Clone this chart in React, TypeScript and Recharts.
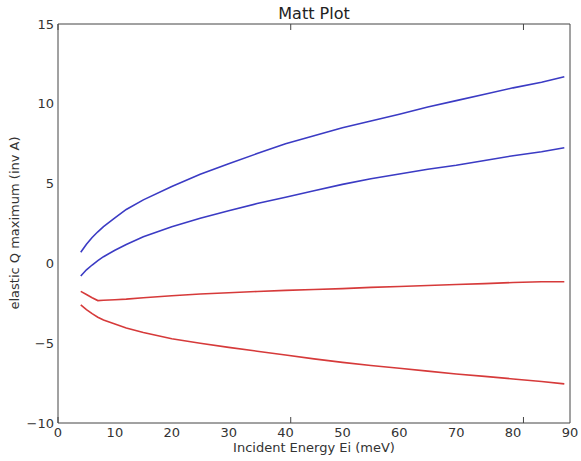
import { LineChart, Line, XAxis, YAxis, Label } from 'recharts'

// incident energy (meV)
const energies = [4, 5, 6, 7, 8, 10, 12, 15, 20, 25, 30, 35, 40, 45, 50, 55, 60, 65, 70, 75, 80, 85, 89]

// upper / lower Q limits
const blueTop = [0.7, 1.2, 1.62, 1.98, 2.3, 2.85, 3.38, 3.98, 4.82, 5.58, 6.25, 6.88, 7.5, 8.0, 8.5, 8.92, 9.35, 9.8, 10.2, 10.6, 11.0, 11.35, 11.7]
const blueLow = [-0.79, -0.4, -0.1, 0.18, 0.42, 0.82, 1.18, 1.67, 2.3, 2.83, 3.3, 3.75, 4.15, 4.55, 4.95, 5.3, 5.6, 5.9, 6.15, 6.45, 6.75, 7.0, 7.25]
const redTop = [-1.75, -1.95, -2.15, -2.33, -2.31, -2.28, -2.24, -2.15, -2.03, -1.92, -1.84, -1.76, -1.69, -1.64, -1.58, -1.5, -1.45, -1.38, -1.32, -1.27, -1.2, -1.15, -1.15]
const redLow = [-2.6, -2.9, -3.15, -3.37, -3.55, -3.8, -4.05, -4.33, -4.72, -5.0, -5.26, -5.5, -5.74, -5.98, -6.2, -6.4, -6.57, -6.75, -6.93, -7.08, -7.24, -7.4, -7.55]

const xTicks = [0, 10, 20, 30, 40, 50, 60, 70, 80, 90]
const yTicks = [-10, -5, 0, 5, 10, 15]

const rows = energies.map((x, i) => ({
  x,
  b1: blueTop[i],
  b2: blueLow[i],
  r1: redTop[i],
  r2: redLow[i],
}))

const font = 'DejaVu Sans, sans-serif'
const axisColor = '#444'
const tickStyle = { fontSize: 13, fill: '#333', fontFamily: font }
const fmt = (v: number) => String(v).replace('-', '\u2212')
const noTick = () => <g />

export default function App() {
  return (
    <div style={{ position: 'absolute', left: 0, top: 0, width: 581, height: 461, background: '#fff' }}>
      <div
        style={{
          position: 'absolute',
          left: 58,
          width: 512,
          top: 6,
          textAlign: 'center',
          fontFamily: font,
          fontSize: 16,
          lineHeight: '16px',
          color: '#222',
        }}
      >
        Matt Plot
      </div>
      <LineChart width={581} height={461} data={rows} margin={{ top: 24, right: 11, bottom: 0, left: 0 }}>
        <XAxis
          dataKey="x"
          type="number"
          domain={[0, 90]}
          ticks={xTicks}
          tickLine={false}
          tickSize={0}
          tickMargin={5}
          tick={tickStyle}
          height={38}
          stroke={axisColor}
          interval={0}
        >
          <Label
            content={() => (
              <text x={314} y={452} textAnchor="middle" fontSize={13} fontFamily={font} fill="#333">
                Incident Energy Ei (meV)
              </text>
            )}
          />
        </XAxis>
        {/* inward tick marks, matplotlib style */}
        <XAxis
          xAxisId="bm"
          orientation="bottom"
          mirror
          type="number"
          domain={[0, 90]}
          ticks={xTicks}
          tickSize={6}
          tick={noTick}
          axisLine={false}
          height={10}
          stroke={axisColor}
          interval={0}
        />
        <XAxis
          xAxisId="top"
          orientation="top"
          mirror
          type="number"
          domain={[0, 90]}
          ticks={xTicks}
          tickSize={6}
          tick={noTick}
          height={10}
          stroke={axisColor}
          interval={0}
        />
        <YAxis
          type="number"
          domain={[-10, 15]}
          ticks={yTicks}
          tickLine={false}
          tickSize={0}
          tickMargin={4}
          tick={tickStyle}
          tickFormatter={fmt}
          width={58}
          stroke={axisColor}
          interval={0}
        >
          <Label
            content={() => (
              <text
                x={15}
                y={223}
                transform="rotate(-90 15 223)"
                textAnchor="middle"
                dominantBaseline="middle"
                fontSize={13}
                fontFamily={font}
                fill="#333"
              >
                elastic Q maximum (inv A)
              </text>
            )}
          />
        </YAxis>
        <YAxis
          yAxisId="lm"
          orientation="left"
          mirror
          type="number"
          domain={[-10, 15]}
          ticks={yTicks}
          tickSize={6}
          tick={noTick}
          axisLine={false}
          width={10}
          stroke={axisColor}
          interval={0}
        />
        <YAxis
          yAxisId="right"
          orientation="right"
          mirror
          type="number"
          domain={[-10, 15]}
          ticks={yTicks}
          tickSize={6}
          tick={noTick}
          width={10}
          stroke={axisColor}
          interval={0}
        />
        <Line dataKey="b1" stroke="#3b3bc4" strokeWidth={1.6} dot={false} isAnimationActive={false} />
        <Line dataKey="b2" stroke="#3b3bc4" strokeWidth={1.6} dot={false} isAnimationActive={false} />
        <Line dataKey="r1" stroke="#d63a3a" strokeWidth={1.6} dot={false} isAnimationActive={false} />
        <Line dataKey="r2" stroke="#d63a3a" strokeWidth={1.6} dot={false} isAnimationActive={false} />
      </LineChart>
    </div>
  )
}
